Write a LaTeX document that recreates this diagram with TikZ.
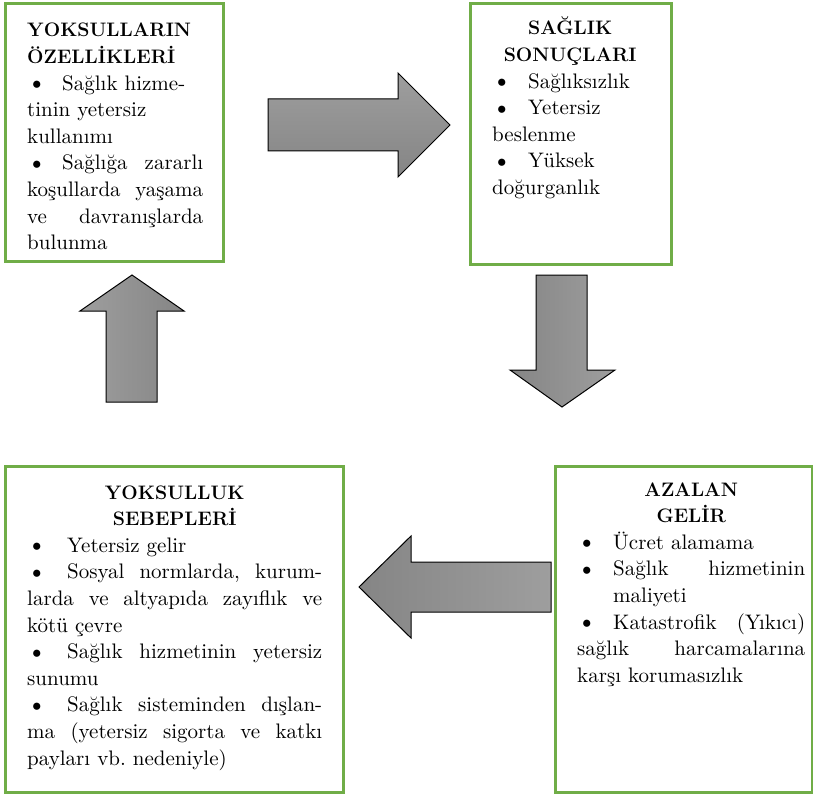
\documentclass[tikz,border=0pt]{standalone}
\usepackage{fontspec}
% the 10pt design of Latin Modern at every size, keeping its wider letter shapes
\setmainfont{lmroman10-regular.otf}[BoldFont=lmroman12-bold.otf]
\frenchspacing
\definecolor{boxgreen}{HTML}{70AD47}
\definecolor{arrowlight}{HTML}{9E9E9E}
\definecolor{arrowdark}{HTML}{858585}
% one line of a text block: plain, justified to the full width, or centred
\newcommand{\plainline}[1]{\makebox[\linewidth][l]{#1}}
\newcommand{\justline}[1]{\leavevmode{\spaceskip=0.3em plus 1fil\relax\hbox to\linewidth{#1}}}
\newcommand{\centline}[1]{\makebox[\linewidth][c]{\bfseries #1}}
% bullet followed by a tab stop of the given width
\newcommand{\bul}[1][36pt]{\makebox[#1][l]{\raisebox{-0.5pt}{\fontsize{25}{25}\selectfont\textbullet}}}
\begin{document}
\begin{tikzpicture}[x=1pt,y=-1pt,
  frame/.style={draw=boxgreen, line width=3pt, inner sep=0pt},
  copy/.style={anchor=base west, inner sep=0pt, align=left,
    font=\fontsize{21}{26.6}\selectfont},
  blockarrow/.style={draw=black, line width=1pt, line join=miter}]
\useasboundingbox (0,0) rectangle (813,794);

% frames
\node[frame, minimum width=218pt, minimum height=257pt] (f1) at (114.5,132.5) {};
\node[frame, minimum width=200.6pt, minimum height=260.3pt] (f2) at (571,134.15) {};
\node[frame, minimum width=338.7pt, minimum height=326.4pt] (f3) at (174.35,629.5) {};
\node[frame, minimum width=256.7pt, minimum height=326pt] (f4) at (683.65,629.5) {};

% texts
\node[copy, text width=176pt] (t1) at (27,37) {%
  \plainline{\bfseries\fontsize{19.5}{26.6}\selectfont YOKSULLARIN}\\
  \plainline{\bfseries\fontsize{19.5}{26.6}\selectfont ÖZELLİKLERİ}\\
  \plainline{\bul[35pt]Sağlık hizme-}\\
  \plainline{tinin yetersiz}\\
  \plainline{kullanımı}\\
  \justline{\bul[35pt]Sağlığa zararlı}\\
  \justline{koşullarda yaşama}\\
  \justline{ve davranışlarda}\\
  \plainline{bulunma}};

\node[copy, text width=156pt] (t2) at (492,35) {%
  \centline{\fontsize{19.5}{26.6}\selectfont SAĞLIK}\\
  \centline{\fontsize{19.5}{26.6}\selectfont SONUÇLARI}\\
  \plainline{\bul Sağlıksızlık}\\
  \plainline{\bul Yetersiz}\\
  \plainline{beslenme}\\
  \plainline{\bul Yüksek}\\
  \plainline{doğurganlık}};

\node[copy, text width=295pt] (t3) at (27,499) {%
  \centline{\fontsize{19.5}{26.6}\selectfont YOKSULLUK}\\
  \centline{\fontsize{19.5}{26.6}\selectfont SEBEPLERİ}\\
  \plainline{\bul[40pt]Yetersiz gelir}\\
  \justline{\bul[40pt]Sosyal normlarda, kurum-}\\
  \justline{larda ve altyapıda zayıflık ve}\\
  \plainline{kötü çevre}\\
  \justline{\bul[40pt]Sağlık hizmetinin yetersiz}\\
  \plainline{sunumu}\\
  \justline{\bul[40pt]Sağlık sisteminden dışlan-}\\
  \justline{ma (yetersiz sigorta ve katkı}\\
  \plainline{payları vb. nedeniyle)}};

\node[copy, text width=228pt] (t4) at (577,496) {%
  \centline{\fontsize{19.5}{26.6}\selectfont AZALAN}\\
  \centline{\fontsize{19.5}{26.6}\selectfont GELİR}\\
  \plainline{\bul Ücret alamama}\\
  \justline{\bul Sağlık hizmetinin}\\
  \plainline{\hspace*{36pt}maliyeti}\\
  \justline{\bul Katastrofik (Yıkıcı)}\\
  \justline{sağlık harcamalarına}\\
  \plainline{karşı korumasızlık}};

% block arrows between the frames
\path[blockarrow, top color=arrowlight, bottom color=arrowdark]
  (268,99) -- (398,99) -- (398,73) -- (450,125) -- (398,177)
  -- (398,151) -- (268,151) -- cycle;
\path[blockarrow, left color=arrowdark, right color=arrowlight]
  (536,275) -- (587,275) -- (587,370) -- (615,370) -- (562,407)
  -- (510,370) -- (536,370) -- cycle;
\path[blockarrow, left color=arrowdark, right color=arrowlight]
  (551,562) -- (411,562) -- (411,536) -- (359,587) -- (411,638)
  -- (411,612) -- (551,612) -- cycle;
\path[blockarrow, left color=arrowlight, right color=arrowdark]
  (106,402) -- (106,311) -- (80,311) -- (132,275) -- (184,311)
  -- (157,311) -- (157,402) -- cycle;
\end{tikzpicture}
\end{document}
